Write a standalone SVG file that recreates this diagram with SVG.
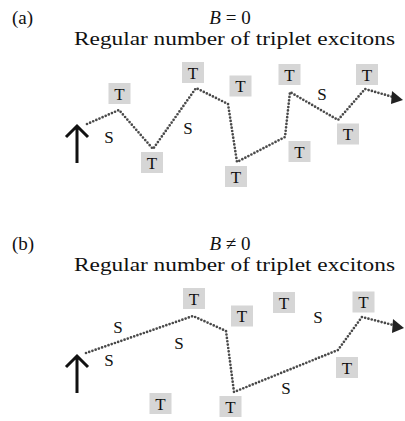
<svg xmlns="http://www.w3.org/2000/svg" width="405" height="421" viewBox="0 0 405 421">
<style>
text{font-family:"Liberation Serif","DejaVu Serif",serif;fill:#111}
.h{font-size:19px}
.lbl{font-size:17px;text-anchor:middle}
.box{fill:#d6d6d6}
.path{fill:none;stroke:#4a4a4a;stroke-width:2.7;stroke-dasharray:0 3.4;stroke-linecap:round;stroke-linejoin:round}
.up{fill:none;stroke:#111;stroke-width:3;stroke-linecap:butt;stroke-linejoin:miter}
</style>
<defs>
<g id="tbox"><rect x="-11" y="-10.5" width="22" height="21" class="box"/><text x="0" y="6" class="lbl">T</text></g>
</defs>

<g id="header-a">
<text x="12" y="24" class="h">(a)</text>
<text x="230" y="24" class="h" text-anchor="middle"><tspan font-style="italic">B</tspan> = 0</text>
<text x="74" y="45" class="h" textLength="321" lengthAdjust="spacingAndGlyphs">Regular number of triplet excitons</text>
</g>

<g id="header-b">
<text x="12" y="250" class="h">(b)</text>
<text x="230" y="250" class="h" text-anchor="middle"><tspan font-style="italic">B</tspan> ≠ 0</text>
<text x="74" y="271" class="h" textLength="321" lengthAdjust="spacingAndGlyphs">Regular number of triplet excitons</text>
</g>

<g id="connectors">
<path class="path" d="M87,124 L119,110 L153,149 L196,88 L228,104 L237,162 L285,137 L290,92 L338,120 L365,89 L393,97"/>
<path d="M392,91 L403,100 L391,104 Z" fill="#222"/>
<path class="path" d="M86,353 L193,316 L226,331 L234,392 L338,350 L362,317 L393,325"/>
<path d="M393,319 L404,328 L392,333 Z" fill="#222"/>
<path class="up" d="M77,163 V127 M66,137 L77,126 L88,137"/>
<path class="up" d="M77,393 V357 M66,367 L77,356 L88,367"/>
</g>

<g id="a-T1"><use href="#tbox" x="119.5" y="93.5"/></g>
<g id="a-T2"><use href="#tbox" x="152" y="162.5"/></g>
<g id="a-T3"><use href="#tbox" x="193" y="72.5"/></g>
<g id="a-T4"><use href="#tbox" x="240.5" y="86"/></g>
<g id="a-T5"><use href="#tbox" x="236" y="176.5"/></g>
<g id="a-T6"><use href="#tbox" x="289.5" y="74.5"/></g>
<g id="a-T7"><use href="#tbox" x="299.5" y="151.5"/></g>
<g id="a-T8"><use href="#tbox" x="348" y="134"/></g>
<g id="a-T9"><use href="#tbox" x="367" y="74.5"/></g>
<g id="a-S1"><text x="109" y="143" class="lbl">S</text></g>
<g id="a-S2"><text x="188" y="134" class="lbl">S</text></g>
<g id="a-S3"><text x="322" y="100" class="lbl">S</text></g>

<g id="b-T1"><use href="#tbox" x="194" y="298.5"/></g>
<g id="b-T2"><use href="#tbox" x="242" y="316"/></g>
<g id="b-T3"><use href="#tbox" x="284" y="302.5"/></g>
<g id="b-T4"><use href="#tbox" x="363.5" y="302"/></g>
<g id="b-T5"><use href="#tbox" x="347" y="367.5"/></g>
<g id="b-T6"><use href="#tbox" x="160.5" y="403.5"/></g>
<g id="b-T7"><use href="#tbox" x="230.5" y="406.5"/></g>
<g id="b-S1"><text x="118" y="333" class="lbl">S</text></g>
<g id="b-S2"><text x="109" y="366" class="lbl">S</text></g>
<g id="b-S3"><text x="179" y="349" class="lbl">S</text></g>
<g id="b-S4"><text x="318" y="323" class="lbl">S</text></g>
<g id="b-S5"><text x="286" y="394" class="lbl">S</text></g>
</svg>
